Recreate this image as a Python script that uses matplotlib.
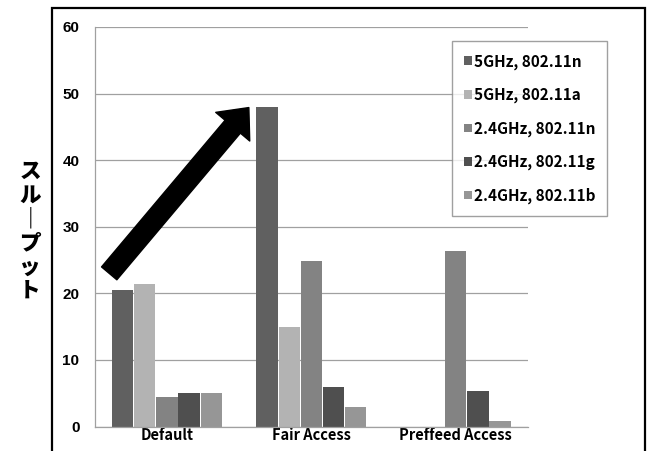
import matplotlib
matplotlib.use('Agg')
import matplotlib.pyplot as plt
import numpy as np
from matplotlib.patches import FancyArrowPatch, Rectangle

plt.rcParams['font.family'] = ['Noto Sans CJK JP', 'DejaVu Sans']

# Data
categories = ['Default', 'Fair Access', 'Preffeed Access']
series = ['5GHz, 802.11n', '5GHz, 802.11a', '2.4GHz, 802.11n', '2.4GHz, 802.11g', '2.4GHz, 802.11b']
values = [
    [20.5, 48.0, 0.0],   # 5GHz, 802.11n
    [21.4, 14.9, 0.0],   # 5GHz, 802.11a
    [4.5, 24.8, 26.3],   # 2.4GHz, 802.11n
    [5.0, 5.9, 5.4],     # 2.4GHz, 802.11g
    [5.0, 2.9, 0.9],     # 2.4GHz, 802.11b
]
colors = ['#606060', '#b3b3b3', '#838383', '#4f4f4f', '#969696']
yticks = [0, 10, 20, 30, 40, 50, 60]

W, H = 649, 451
fig = plt.figure(figsize=(W / 100, H / 100), dpi=100)
ax = fig.add_axes([94.75 / W, 1 - 426.5 / H, (528 - 94.75) / W, (426.5 - 27) / H])

x = np.arange(len(categories))
step = 0.1536
bw = 0.148
for i, s in enumerate(series):
    ax.bar(x + (i - 2) * step, values[i], bw, color=colors[i], label=s, zorder=2)

ax.set_xlim(-0.5, 2.5)
ax.set_ylim(0, 60)
ax.set_yticks(yticks)
ax.set_xticks(x)
ax.set_xticklabels(categories, fontweight='bold', fontsize=10.5)
for lab in ax.get_yticklabels():
    lab.set_family('Liberation Sans')
    lab.set_fontweight('bold')
    lab.set_fontsize(11)
ax.tick_params(axis='y', length=0, pad=11)
ax.tick_params(axis='x', length=0, pad=0.5)
ax.yaxis.grid(True, color='#a0a0a0', linewidth=0.9, zorder=0)
ax.set_axisbelow(True)
for side in ['top', 'right']:
    ax.spines[side].set_visible(False)
for side in ['left', 'bottom']:
    ax.spines[side].set_color('#a0a0a0')
    ax.spines[side].set_linewidth(0.9)

# y label, vertical stacked characters
fig.text(30 / W, 1 - 231 / H, '\n'.join(['ス', 'ル', '｜', 'プ', 'ッ', 'ト']),
         ha='center', va='center', fontsize=15.5, fontweight='heavy', linespacing=1.05)

# big arrow
arrow = FancyArrowPatch((-0.40, 23.0), (0.567, 47.9),
                        arrowstyle='simple,head_length=1.8,head_width=3.2,tail_width=1.44',
                        mutation_scale=10, color='black', shrinkA=0, shrinkB=0, zorder=5)
ax.add_patch(arrow)

leg = ax.legend(loc='upper left', bbox_to_anchor=(452 / W, 1 - 41 / H), bbox_transform=fig.transFigure,
                prop={'weight': 'bold', 'size': 11}, frameon=True, fancybox=False,
                handlelength=0.5, handleheight=0.5, handletextpad=0.12,
                labelspacing=1.12, borderpad=0.8, borderaxespad=0)
leg.get_frame().set_edgecolor('#888888')
leg.get_frame().set_linewidth(1.0)

# outer frame
fig.add_artist(Rectangle((52 / W, -0.05), (645 - 52) / W, 1 - 8.5 / H + 0.05,
                         transform=fig.transFigure, fill=False, edgecolor='black',
                         linewidth=1.6, clip_on=False))

plt.savefig('out.png', dpi=100)
